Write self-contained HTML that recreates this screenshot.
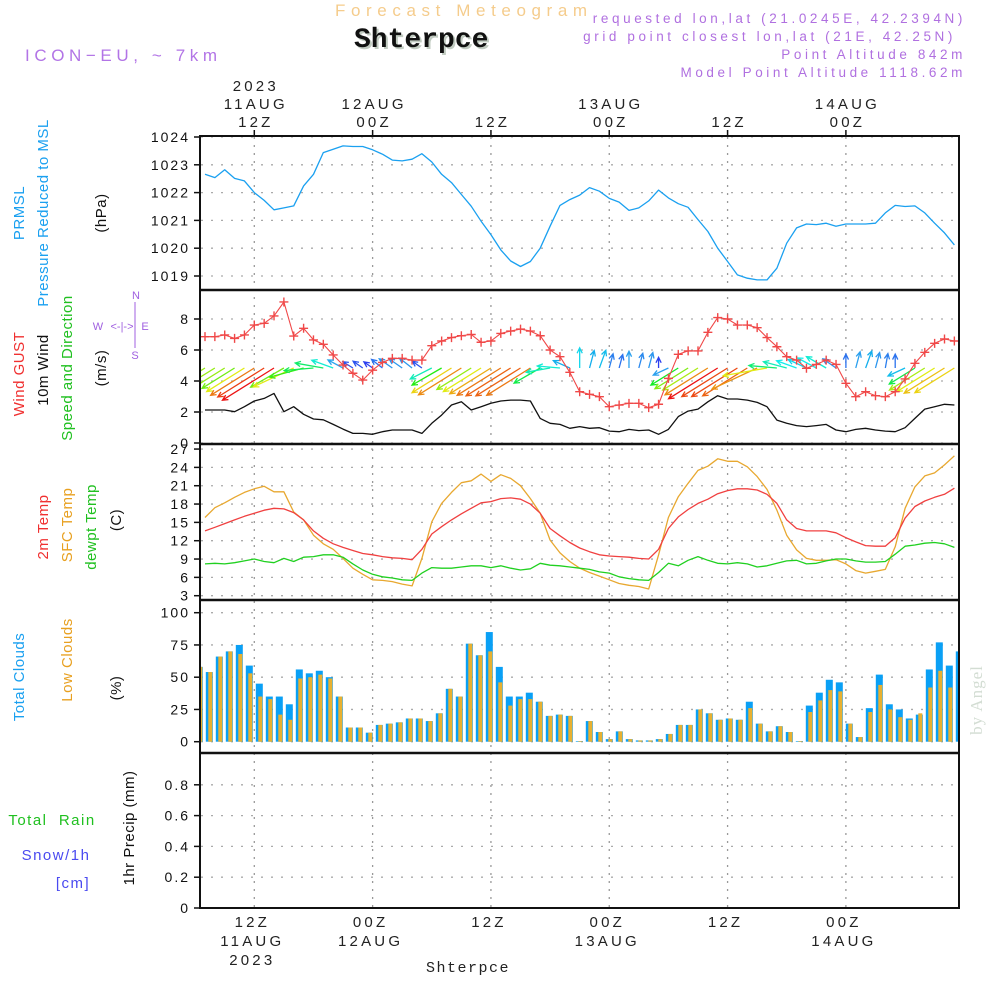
<!DOCTYPE html>
<html><head><meta charset="utf-8"><style>
html,body{margin:0;padding:0;background:#fff;}
svg{display:block;font-family:"Liberation Sans",sans-serif;}
.tk{font-size:14px;fill:#111;letter-spacing:2px}
.ax{font-size:15px;fill:#222;letter-spacing:3.2px}
</style></head><body>
<svg id="chart" width="1000" height="1000" viewBox="0 0 1000 1000" xmlns="http://www.w3.org/2000/svg">
<defs>
<clipPath id="cp"><rect x="201" y="137" width="757" height="770"/></clipPath>
<clipPath id="cW"><rect x="201" y="291" width="757" height="152"/></clipPath>
</defs>
<text x="335" y="16" font-size="17" fill="#f5cc8c" letter-spacing="5.6">Forecast Meteogram</text>
<text x="356" y="49" font-size="28" font-weight="bold" font-family="Liberation Mono,monospace" fill="#9a9" opacity="0.6">Shterpce</text>
<text x="354" y="47" font-size="28" font-weight="bold" font-family="Liberation Mono,monospace" fill="#111">Shterpce</text>
<text x="25" y="61" font-size="17" fill="#b274e6" letter-spacing="4.6">ICON−EU, ~ 7km</text>
<g font-size="13.5" fill="#b070e0" letter-spacing="3.6" text-anchor="end">
<text x="966" y="23">requested lon,lat (21.0245E, 42.2394N)</text>
<text x="956" y="41">grid point closest lon,lat (21E, 42.25N)</text>
<text x="966" y="59">Point Altitude 842m</text>
<text x="966" y="77">Model Point Altitude 1118.62m</text>
</g>
<g font-size="15" letter-spacing="0.5" text-anchor="middle">
<text transform="translate(24,213) rotate(-90)" fill="#1aa0f0">PRMSL</text>
<text transform="translate(48,213) rotate(-90)" fill="#1aa0f0">Pressure Reduced to MSL</text>
<text transform="translate(106,213) rotate(-90)" fill="#111">(hPa)</text>
<text transform="translate(24,374) rotate(-90)" fill="#f03030">Wind GUST</text>
<text transform="translate(48,370) rotate(-90)" fill="#111">10m Wind</text>
<text transform="translate(72,368) rotate(-90)" fill="#20c020">Speed and Direction</text>
<text transform="translate(106,368) rotate(-90)" fill="#111">(m/s)</text>
<text transform="translate(48,527) rotate(-90)" fill="#f03030">2m Temp</text>
<text transform="translate(72,525) rotate(-90)" fill="#e8a020">SFC Temp</text>
<text transform="translate(96,527) rotate(-90)" fill="#20c020">dewpt Temp</text>
<text transform="translate(121,520) rotate(-90)" fill="#111">(C)</text>
<text transform="translate(24,677) rotate(-90)" fill="#1aa0f0">Total Clouds</text>
<text transform="translate(72,660) rotate(-90)" fill="#e8a020">Low Clouds</text>
<text transform="translate(121,688) rotate(-90)" fill="#111">(%)</text>
<text transform="translate(134,828) rotate(-90)" fill="#111">1hr Precip (mm)</text>
<text x="52" y="825" fill="#20c020" letter-spacing="1.5">Total&#160;&#160;Rain</text>
<text x="56" y="860" fill="#4a4af0" letter-spacing="1.5">Snow/1h</text>
<text x="73" y="888" fill="#4a4af0" letter-spacing="1.5">[cm]</text>
</g>
<g font-size="11" fill="#a060e0" text-anchor="middle">
<text x="136" y="299">N</text><text x="98" y="330">W</text><text x="145" y="330">E</text><text x="135" y="359">S</text>
<text x="122" y="330" font-size="11">&lt;-|-&gt;</text>
<line x1="135" y1="302" x2="135" y2="348" stroke="#a060e0" stroke-width="1"/>
</g>
<text transform="translate(982,700) rotate(-90)" text-anchor="middle" font-family="Liberation Serif,serif" font-size="17" fill="#d3ddd3" letter-spacing="1">by Angel</text>
<text x="468" y="972" text-anchor="middle" font-family="Liberation Mono,monospace" font-size="15" fill="#222" letter-spacing="1.5">Shterpce</text>
<g id="grid"></g>
<g id="marks" clip-path="url(#cp)"></g>
<g id="frame"></g>
</svg>
<script>
const pressure=[1022.66,1022.54,1022.82,1022.51,1022.42,1022.0,1021.72,1021.38,1021.45,1021.52,1022.24,1022.66,1023.44,1023.56,1023.68,1023.66,1023.66,1023.54,1023.38,1023.17,1023.14,1023.2,1023.4,1023.1,1022.66,1022.36,1021.93,1021.51,1020.97,1020.49,1019.94,1019.54,1019.34,1019.52,1020.0,1020.79,1021.54,1021.75,1021.91,1022.18,1022.05,1021.79,1021.66,1021.36,1021.45,1021.7,1022.09,1021.81,1021.6,1021.47,1021.03,1020.6,1020.0,1019.52,1019.04,1018.92,1018.86,1018.86,1019.28,1020.18,1020.73,1020.87,1020.85,1020.9,1020.79,1020.87,1020.87,1020.87,1020.9,1021.27,1021.54,1021.5,1021.52,1021.27,1020.9,1020.55,1020.12];
const gust=[6.86,6.86,6.97,6.75,6.97,7.61,7.72,8.2,9.1,6.9,7.4,6.65,6.37,5.68,5.03,4.5,4.06,4.7,5.2,5.46,5.46,5.35,5.35,6.28,6.58,6.8,6.92,7.0,6.5,6.58,7.07,7.22,7.35,7.22,6.92,6.0,5.57,4.56,3.31,3.14,2.99,2.34,2.45,2.56,2.56,2.28,2.5,4.17,5.72,5.94,5.94,7.14,8.09,8.0,7.61,7.61,7.44,6.8,6.21,5.57,5.35,4.82,5.07,5.35,5.07,3.85,2.99,3.31,3.05,2.99,3.31,4.13,5.14,5.85,6.43,6.71,6.58];
const wind10m=[2.13,2.13,2.13,2.02,2.34,2.71,2.88,3.2,2.02,2.34,1.85,1.55,1.5,1.2,0.9,0.62,0.62,0.56,0.73,0.84,0.84,0.84,0.62,1.27,1.8,2.45,2.66,2.13,2.34,2.56,2.71,2.77,2.77,2.71,1.59,1.27,1.2,0.95,1.06,0.95,0.99,0.77,0.73,0.88,0.8,0.84,0.56,0.88,1.7,2.06,2.19,2.66,3.05,2.84,2.84,2.77,2.62,2.34,1.48,1.27,1.12,1.06,1.12,1.2,0.84,0.73,0.88,0.95,0.84,0.77,0.73,0.99,1.59,2.19,2.34,2.5,2.45];
const windDir=[58,58,58,58,58,58,58,58,60,65,75,85,100,110,118,122,125,125,128,125,125,128,125,63,60,58,58,58,58,58,58,58,58,58,60,80,95,114,180,195,200,195,195,180,195,195,180,65,58,58,58,58,58,58,58,58,65,80,95,105,110,115,118,120,125,180,195,200,195,190,180,65,58,58,58,58,58];
const temp2m=[13.6,14.2,14.8,15.4,16.0,16.5,17.0,17.3,17.2,16.6,15.4,13.6,12.4,11.5,10.9,10.4,9.9,9.7,9.4,9.2,9.1,8.9,10.6,13.1,14.3,15.4,16.4,17.3,18.2,18.4,18.9,19.0,18.8,18.0,16.5,14.0,12.8,11.7,10.8,10.2,9.7,9.5,9.4,9.3,9.1,9.0,10.6,14.0,15.9,17.1,18.1,18.8,19.7,20.2,20.5,20.5,20.3,19.6,18.1,15.4,14.0,13.6,13.6,13.6,13.3,12.5,11.8,11.2,11.1,11.1,12.5,15.7,17.6,18.5,19.1,19.6,20.6];
const tempSfc=[15.8,17.4,18.2,19.1,19.9,20.5,20.9,20.0,20.0,16.7,15.4,12.9,11.5,10.6,9.1,7.5,6.5,5.6,5.5,5.3,4.9,4.6,9.1,15.1,18.1,19.9,21.5,21.8,22.9,21.7,22.8,22.2,21.0,18.9,16.5,12.1,10.0,8.6,7.5,6.8,6.2,5.6,5.0,4.7,4.5,4.1,9.7,15.8,19.2,21.4,23.5,24.2,25.4,25.0,25.0,24.1,22.5,20.4,17.0,12.9,10.5,9.1,8.8,8.8,8.9,8.2,7.1,6.7,7.0,7.3,11.0,17.3,20.8,22.6,23.1,24.4,25.9];
const dewpt=[8.2,8.3,8.2,8.4,8.7,9.0,8.6,8.4,9.1,8.6,9.3,9.4,9.7,9.7,9.3,8.2,7.2,6.5,6.1,5.9,5.6,5.5,6.7,7.6,7.5,7.5,7.7,7.9,7.9,7.6,7.9,7.5,7.2,7.4,8.3,8.0,7.9,7.7,7.5,7.3,6.9,6.7,6.1,5.8,5.6,5.5,6.8,8.3,7.9,8.8,9.4,8.8,8.3,8.2,8.4,8.2,7.7,7.9,8.3,8.7,8.8,8.2,8.3,8.7,9.0,9.0,8.7,8.5,8.5,8.6,9.8,11.1,11.3,11.6,11.7,11.5,10.9];
const totalClouds=[58,54,66,70,75,59,45,35,35,29,56,53,55,50,35,11,11,7,13,14,15,18,18,16,22,41,35,76,67,85,58,35,35,38,31,20,21,20,0.5,16,7.5,2,8,2,1,1,2,6,13,13,25,22,17,18,17,31,14,8,12,7.5,0.5,28,38,48,46,14,3.6,26,52,29,25,18,21,56,77,59,70];
const lowClouds=[58,54,66,70,68,53,35,33,21,17,49,50,52,49,35,11,11,7,13,14,15,18,18,16,22,41,35,76,67,70,46,28,33,33,31,20,21,20,0.5,16,7.5,2,8,2,1,1,2,6,13,13,25,22,17,18,17,26,14,8,12,7.5,0.5,23,32,40,39,14,3.6,23,44,25,19,17,22,42,55,42,51];
const precip=[0,0,0,0,0,0,0,0,0,0,0,0,0,0,0,0,0,0,0,0,0,0,0,0,0,0,0,0,0,0,0,0,0,0,0,0,0,0,0,0,0,0,0,0,0,0,0,0,0,0,0,0,0,0,0,0,0,0,0,0,0,0,0,0,0,0,0,0,0,0,0,0,0,0,0,0,0];
const pTicks=[1019,1020,1021,1022,1023,1024];
const wTicks=[0,2,4,6,8];
const tTicks=[3,6,9,12,15,18,21,24,27];
const cTicks=[0,25,50,75,100];
const rTicks=[0,0.2,0.4,0.6,0.8];
const timeTicksH=[12,24,36,48,60,72];
const topLabels=[["2023","11AUG","12Z"],["","12AUG","00Z"],["","","12Z"],["","13AUG","00Z"],["","","12Z"],["","14AUG","00Z"]];
const botLabels=[["12Z","11AUG","2023"],["00Z","12AUG",""],["12Z","",""],["00Z","13AUG",""],["12Z","",""],["00Z","14AUG",""]];
const startHour=7;

const NS="http://www.w3.org/2000/svg";
const xH=h=>254.3+(h-12)*9.86;
const xL=i=>xH(startHour+i);
const xB=k=>199.3+10*k;
const yP=p=>276-(p-1019)*27.8;
const yW=v=>443-v*15.5;
const yT=t=>595.7-(t-3)*6.11;
const yC=c=>741.7-c*1.29;
const yR=r=>908-r*154;
function mk(parent,tag,attrs,txt){const e=document.createElementNS(NS,tag);for(const k in attrs)e.setAttribute(k,attrs[k]);if(txt!==undefined)e.textContent=txt;parent.appendChild(e);return e;}
const grid=document.getElementById('grid'),marks=document.getElementById('marks'),frame=document.getElementById('frame');

function yAxis(ticks,yf,fmt,name){
  ticks.forEach(v=>{const y=yf(v);
    const g=mk(grid,'line',{x1:201,x2:958,y1:y,y2:y,stroke:'#aaa','stroke-width':1.3,'stroke-dasharray':'2 8'});
    
    
    const t=mk(frame,'line',{x1:194,x2:200,y1:y,y2:y,stroke:'#111','stroke-width':1.5});
    
    
    const l=mk(frame,'text',{x:190,y:y+5,'text-anchor':'end',class:'tk'},fmt(v));
    
    
  });
}
yAxis(pTicks,yP,v=>String(v),'pressure-axis');
yAxis(wTicks,yW,v=>String(v),'wind-axis');
yAxis(tTicks,yT,v=>String(v),'temp-axis');
yAxis(cTicks,yC,v=>String(v),'cloud-axis');
yAxis(rTicks,yR,v=>v===0?'0':v.toFixed(1),'precip-axis');

timeTicksH.forEach((h,j)=>{const x=xH(h);
  const g=mk(grid,'line',{x1:x,x2:x,y1:137,y2:907,stroke:'#999','stroke-width':1.3,'stroke-dasharray':'2 6'});
  
  
  const t1=mk(frame,'line',{x1:x,x2:x,y1:130,y2:136,stroke:'#111','stroke-width':1.5});
  
  
  topLabels[j].forEach((s,r)=>{if(!s)return;
    const l=mk(frame,'text',{x:x+1.5,y:91+r*18,'text-anchor':'middle',class:'ax'},s);
    
    });
  botLabels[j].forEach((s,r)=>{if(!s)return;
    const l=mk(frame,'text',{x:x-2,y:927+r*19,'text-anchor':'middle',class:'ax'},s);
    
    });
});

totalClouds.forEach((c,k)=>{
  const b=mk(marks,'rect',{x:xB(k)-3.5,y:yC(c),width:7,height:yC(0)-yC(c),fill:'#0aa0f5'});
  
  
  const o=mk(marks,'rect',{x:xB(k)-1,y:yC(lowClouds[k]),width:4,height:yC(0)-yC(lowClouds[k]),fill:'#e8b030'});
  
  
});
precip.forEach((r,k)=>{if(r<=0)return;
  const b=mk(marks,'rect',{x:xB(k)-3.5,y:yR(r),width:7,height:yR(0)-yR(r),fill:'#20c020'});
  
  
});

function line(data,yf,color,name,w){
  const d=data.map((v,i)=>(i?'L':'M')+xL(i).toFixed(1)+','+yf(v).toFixed(1)).join('');
  const p=mk(marks,'path',{d:d,fill:'none',stroke:color,'stroke-width':w||1.3,'stroke-linejoin':'round'});
  
  
}
line(pressure,yP,'#1aa0f0','pressure-line');
line(tempSfc,yT,'#e8a830','sfc-temp-line');
line(temp2m,yT,'#f04040','temp-2m-line');
line(dewpt,yT,'#20d020','dewpoint-line');
line(wind10m,yW,'#111','wind-10m-line');

const wg=mk(marks,'g',{'clip-path':'url(#cW)'});


windDir.forEach((th,i)=>{
  const s=wind10m[i],r=th*Math.PI/180,L=s*19;
  const x0=xL(i),y0=368,dx=-Math.sin(r)*L,dy=Math.cos(r)*L,x1=x0+dx,y1=y0+dy;
  const hue=Math.max(0,Math.min(240,240-(s-0.5)/2.5*240));
  const col='hsl('+hue.toFixed(0)+',85%,'+(hue>200?55:50)+'%)';
  const a=Math.atan2(dy,dx),h=6;
  const d='M'+x0+','+y0+'L'+x1+','+y1+'M'+(x1-h*Math.cos(a-0.45))+','+(y1-h*Math.sin(a-0.45))+'L'+x1+','+y1+'L'+(x1-h*Math.cos(a+0.45))+','+(y1-h*Math.sin(a+0.45));
  const p=mk(wg,'path',{d:d,fill:'none',stroke:col,'stroke-width':1.3});
  
  
});

line(gust,yW,'#f04848','gust-line',1.1);
gust.forEach((v,i)=>{const x=xL(i),y=yW(v);
  const m=mk(marks,'path',{d:'M'+(x-4.5)+','+y+'h9M'+x+','+(y-4.5)+'v9',stroke:'#f04848','stroke-width':1.4});
  
  
});

const fr=mk(frame,'rect',{x:200,y:136,width:759,height:772,fill:'none',stroke:'#111','stroke-width':2});


[290,444,600,753].forEach(y=>{
  const s=mk(frame,'line',{x1:200,x2:959,y1:y,y2:y,stroke:'#111','stroke-width':2.5});
  
  
});
</script>
</body></html>
